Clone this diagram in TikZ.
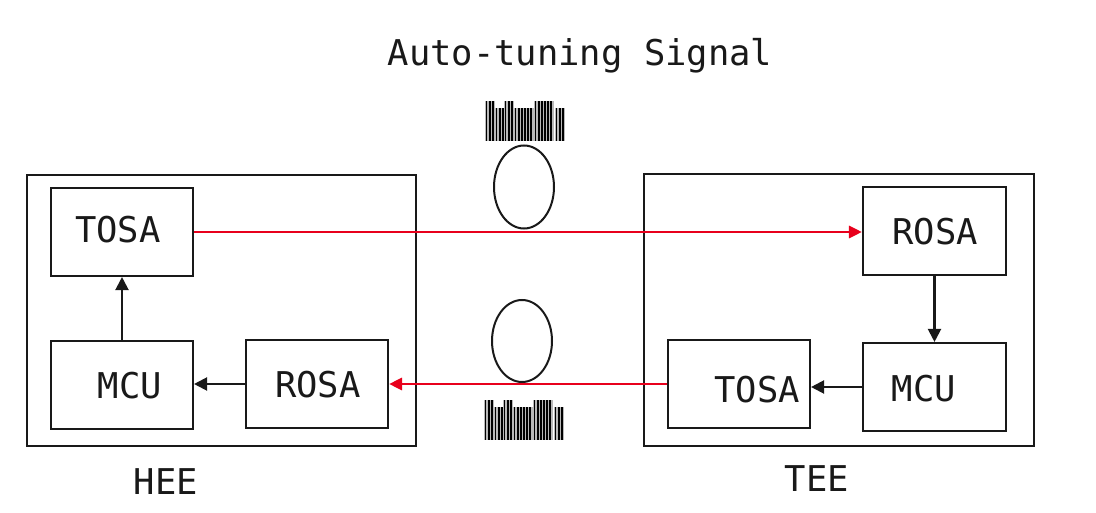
\documentclass[tikz,border=0pt]{standalone}
\usepackage{fontspec}
\setmonofont{DejaVu Sans Mono}
\usetikzlibrary{shapes.geometric,arrows.meta}
\definecolor{sigred}{RGB}{232,0,28}
\definecolor{barg}{RGB}{185,185,185}
\definecolor{ink}{RGB}{25,25,25}
\tikzset{
  box/.style={draw=ink,line width=2.1pt,minimum width=142pt,minimum height=88pt,inner sep=0pt},
  outer/.style={draw=ink,line width=2pt,inner sep=0pt},
  txt/.style={font=\ttfamily\fontsize{35.5}{40}\selectfont,text=ink,anchor=base,inner sep=0pt},
  fiber/.style={draw=ink,line width=2pt,ellipse,inner sep=0pt},
  blk/.style={draw=ink,line width=2.1pt,-{Triangle[length=13pt,width=13pt]}},
  redarr/.style={draw=sigred,line width=2.8pt,-{Triangle[length=13pt,width=12pt]}}
}
\newcommand{\bargroup}[3]{% x0, width, top
  \fill[barg] (#1,#3) rectangle ++(#2,141-#3);
  \foreach \k in {0,1,2,3,4,5,6}{
    \pgfmathsetmacro{\bx}{#1+0.6+\k*3.1}
    \pgfmathparse{\bx+1.6<=#1+#2?1:0}
    \ifnum\pgfmathresult=1 \fill[black] (\bx,#3) rectangle ++(1.8,141-#3);\fi
  }
}
\newcommand{\mybarcode}[2]{%
  \begin{scope}[shift={(#1,#2)}]
    \bargroup{0}{9.5}{101}
    \bargroup{10}{8.5}{108}
    \bargroup{19}{9.5}{101}
    \bargroup{29}{20}{108}
    \bargroup{49}{20}{101}
    \bargroup{70}{9.5}{108}
  \end{scope}}
\begin{document}
\begin{tikzpicture}[x=1pt,y=-1pt]
\useasboundingbox (0,0) rectangle (1096,513);
\fill[white] (0,0) rectangle (1096,513);

% outer boxes
\node[outer,minimum width=389pt,minimum height=271pt] (hee) at (221.5,310.5) {};
\node[outer,minimum width=390pt,minimum height=272pt] (tee) at (839,310) {};

% inner boxes
\node[box] (tosaL) at (122,232) {};
\node[box] (mcuL) at (122,385) {};
\node[box] (rosaL) at (317,384) {};
\node[box,minimum width=143pt] (rosaR) at (934.5,231) {};
\node[box,minimum width=143pt] (mcuR) at (934.5,387) {};
\node[box] (tosaR) at (739,384) {};

% labels
\node[txt] (tTosaL) at (118,243) {TOSA};
\node[txt] (tMcuL) at (130,398) {MCU};
\node[txt] (tRosaL) at (318,397) {ROSA};
\node[txt] (tRosaR) at (935,245) {ROSA};
\node[txt] (tMcuR) at (924,401) {MCU};
\node[txt] (tTosaR) at (757,402) {TOSA};
\node[txt] (tHee) at (166,494) {HEE};
\node[txt] (tTee) at (817,491) {TEE};
\node[txt] (title) at (580,66) {Auto-tuning Signal};

% fibers
\node[fiber,minimum width=60pt,minimum height=83pt] (fibT) at (524,187) {};
\node[fiber,minimum width=60pt,minimum height=82pt] (fibB) at (522,341) {};

% barcodes
\mybarcode{485}{0}
\mybarcode{484}{299}

% connectors
\draw[blk] (mcuL.north) -- (tosaL.south);
\draw[blk] (rosaL.west) -- (rosaL.west -| mcuL.east);
\draw[blk] (rosaR.south) -- (mcuR.north);
\draw[blk] (mcuR.west) -- (mcuR.west -| tosaR.east);
\draw[redarr] (tosaL.east) -- (tosaL.east -| rosaR.west);
\draw[redarr] (tosaR.west) -- (tosaR.west -| rosaL.east);
\end{tikzpicture}
\end{document}
